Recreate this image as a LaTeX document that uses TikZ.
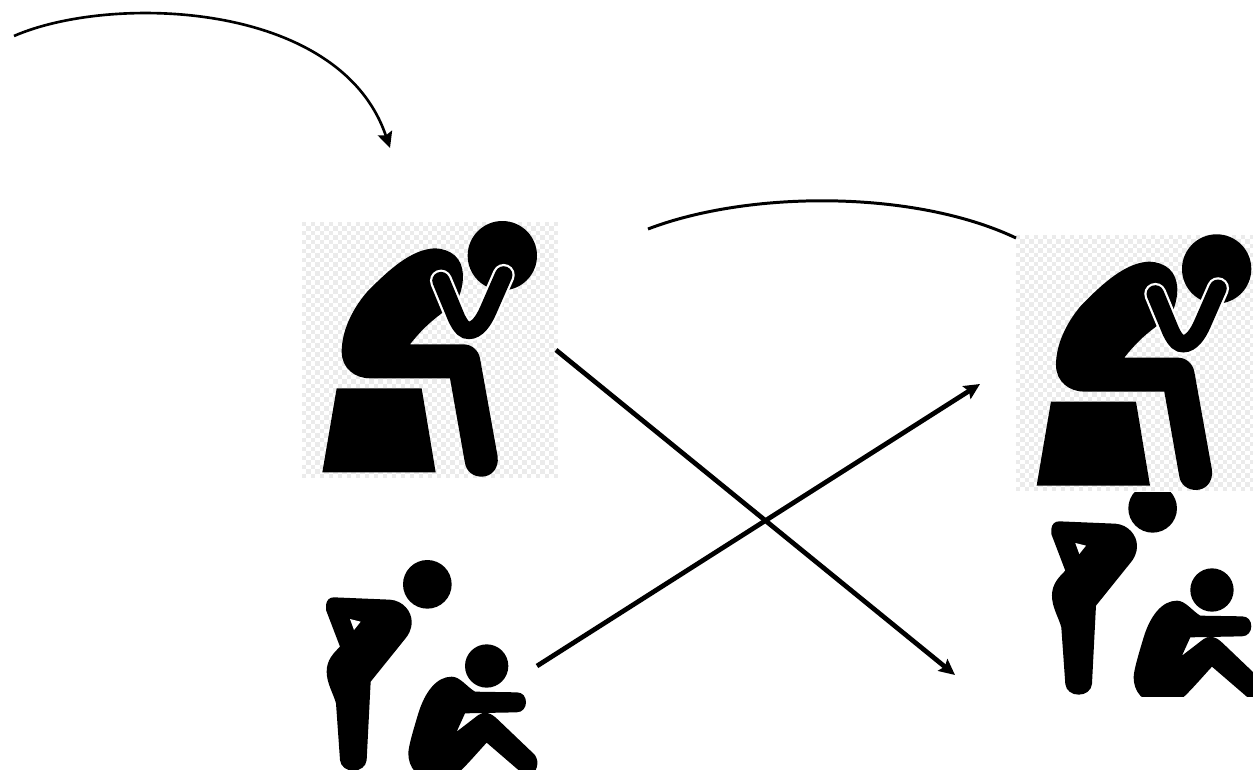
\documentclass[tikz,border=0pt]{standalone}
\usetikzlibrary{arrows.meta}

\tikzset{
  bendman/.style={fill=black},
  pics/sadman/.style={code={
    % checker backdrop
    \fill[white] (20,20) rectangle (790,790);
    \foreach \i in {0,...,56} {
      \foreach \j in {0,...,56} {
        \pgfmathtruncatemacro{\k}{mod(\i+\j,2)}
        \ifnum\k=0
          \fill[gray!16] (20+13.5*\i,20+13.5*\j) rectangle ++(13.5,13.5);
        \fi
      }
    }
    % stool
    \fill[bendman] (125,520) -- (380,520) -- (422,772) -- (82,772) -- cycle;
    % head and body
    \fill[bendman] (622,122) circle (104);
    \fill[bendman] (420,100) .. controls (350,102) and (280,165) .. (215,232)
      .. controls (170,285) and (140,350) .. (140,410)
      .. controls (140,460) and (180,490) .. (225,490) -- (465,490) -- (510,745)
      .. controls (515,770) and (535,785) .. (560,785)
      .. controls (590,785) and (612,760) .. (608,725) -- (555,430)
      .. controls (550,405) and (530,388) .. (505,388) -- (345,388)
      .. controls (375,350) and (400,325) .. (440,295) -- (490,250)
      .. controls (510,200) and (510,150) .. (480,122)
      .. controls (465,108) and (440,100) .. (420,100) -- cycle;
    % arms
    \draw[white, line width=12.6pt, line cap=round] (438,197) -- (485,310)
      .. controls (500,340) and (510,346) .. (522,346)
      .. controls (545,346) and (565,320) .. (580,285) -- (626,180);
    \draw[black, line width=10pt, line cap=round] (438,197) -- (485,310)
      .. controls (500,340) and (510,346) .. (522,346)
      .. controls (545,346) and (565,320) .. (580,285) -- (626,180);
  }},
  pics/tiredpair/.style={code={
    \begin{scope}
      \clip (0,0) rectangle (760,667);
      % standing figure
      \fill[bendman] (352,103) circle (73);
      \fill[bendman] (48,165) .. controls (50,150) and (58,142) .. (72,142) -- (240,149)
        .. controls (280,152) and (305,185) .. (305,215)
        .. controls (305,240) and (295,255) .. (285,267) -- (182,395) -- (170,630)
        .. controls (168,650) and (150,662) .. (130,662)
        .. controls (110,662) and (92,650) .. (90,630) -- (78,460)
        .. controls (70,430) and (50,400) .. (50,365)
        .. controls (50,330) and (70,310) .. (90,290) -- (48,180) -- cycle;
      \fill[white] (120,207) -- (152,215) -- (132,240) -- cycle;
      % sitting figure
      \fill[bendman] (530,348) circle (65);
      \fill[bendman] (425,380) .. controls (380,380) and (345,425) .. (325,490)
        .. controls (310,540) and (295,590) .. (295,610)
        .. controls (295,650) and (320,690) .. (380,690) -- (420,690)
        .. controls (450,670) and (500,610) .. (530,578) -- (660,690)
        .. controls (680,660) and (690,640) .. (675,615) -- (565,510)
        .. controls (540,485) and (525,485) .. (505,495) -- (440,545) -- (465,490) -- (620,487)
        .. controls (638,487) and (648,472) .. (648,457)
        .. controls (648,440) and (638,427) .. (620,427) -- (495,425)
        .. controls (470,410) and (450,380) .. (425,380) -- cycle;
    \end{scope}
  }},
}

\begin{document}
\begin{tikzpicture}[
  x=0.02cm, y=-0.02cm,
  thinarrow/.style={-{Stealth[length=9pt, width=8.5pt, inset=1.5pt]}, line width=1.5pt},
  thickarrow/.style={-{Stealth[length=9pt, width=8.5pt, inset=1.5pt]}, line width=2.7pt},
]
\useasboundingbox (0,0) rectangle (1253,770);

% === Figures ===
\pic[scale=1/3] (sadleft) at (295,215) {sadman};
\pic[scale=1/3] (pairleft) at (310,550) {tiredpair};
\pic[scale=1/3] (pairright) at (1035.3,474) {tiredpair};
\pic[scale=1/3] (sadright) at (1009.3,228.3) {sadman};

% === Arrow end points ===
\coordinate (topstart) at (14,36);
\coordinate (topend) at (390,148);
\coordinate (midstart) at (648,229);
\coordinate (midend) at (1016,238);
\coordinate (crossa) at (556,350);
\coordinate (crossb) at (955,675);
\coordinate (crossc) at (537,666);
\coordinate (crossd) at (980,384);

% === Curved arrows ===
\draw[thinarrow] (topstart) .. controls (110,-6) and (340,0) .. (topend);
\draw[line width=1.7pt] (midstart) .. controls (750,190) and (915,190) .. (midend);

% === Crossing arrows ===
\draw[thickarrow] (crossa) -- (crossb);
\draw[thickarrow] (crossc) -- (crossd);

\end{tikzpicture}
\end{document}
